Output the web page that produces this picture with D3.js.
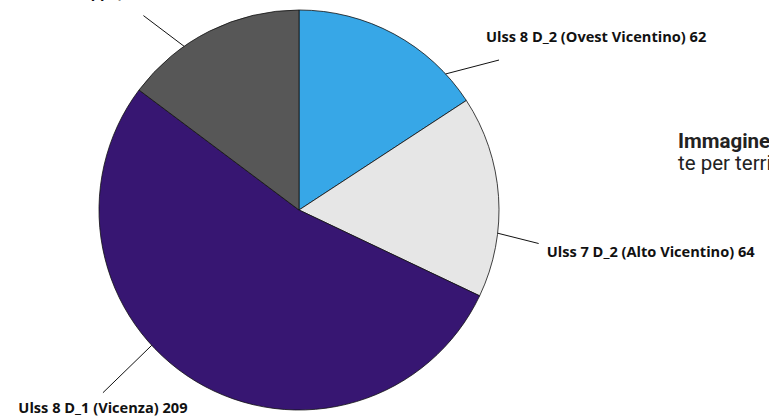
<!DOCTYPE html>
<html>
<head>
<meta charset="utf-8">
<script src="https://cdn.jsdelivr.net/npm/d3@7"></script>
<style>
  body { margin: 0; background: #fff; overflow: hidden; }
  #chart text.lbl { font-family: "Open Sans", sans-serif; font-weight: bold; font-size: 14.6px; fill: #111; }
  #chart text.cap { font-family: Roboto, sans-serif; font-size: 20.5px; fill: #222; }
</style>
</head>
<body>
<div id="chart"><svg width="769" height="419"></svg></div>
<script>
// distretti, in ordine orario a partire dalle 12
var districts = ["Ulss 8 D_2 (Ovest Vicentino)", "Ulss 7 D_2 (Alto Vicentino)", "Ulss 8 D_1 (Vicenza)", "Ulss 7 D_1 (Bassano del Grappa)"];
var counts = [62, 64, 209, 58];
var colors = ["#37a7e7", "#e6e6e6", "#371672", "#575757"];

// linea guida: punto sulla fetta (frazione), lunghezza, rotazione; poi posizione del testo
var labelLayout = [
  { at: 0.83, len: 50, turn: 6, anchor: "start", dx: -13, dy: -18 },
  { at: 0.68, len: 42, turn: 1.3, anchor: "start", dx: 8, dy: 13 },
  { at: 0.585, len: 68, turn: -0.4, anchor: "middle", dx: 0, dy: 20 },
  { at: 0.34, len: 49, turn: -3.6, anchor: "end", dx: 0, dy: -17.5 }
];

var svg = d3.select("#chart svg");
var cx = 299, cy = 210, radius = 200;

var g = svg.append("g").attr("transform", "translate(" + cx + "," + cy + ")");

var pie = d3.pie().sort(null).value(function(d) { return d; });
var arcs = pie(counts);

var arc = d3.arc().innerRadius(0).outerRadius(radius);

// punto in coordinate polari (angolo come in d3.arc: 0 = ore 12, senso orario)
function polar(a, r) {
  return [r * Math.sin(a), -r * Math.cos(a)];
}

function leaderStart(d, i) {
  var a = d.startAngle + (d.endAngle - d.startAngle) * labelLayout[i].at;
  return polar(a, radius);
}

function leaderEnd(d, i) {
  var L = labelLayout[i];
  var a = d.startAngle + (d.endAngle - d.startAngle) * L.at + L.turn * Math.PI / 180;
  return polar(a, radius + L.len);
}

g.selectAll("path.slice")
  .data(arcs)
  .enter().append("path")
  .attr("class", "slice")
  .attr("d", arc)
  .attr("fill", function(d, i) { return colors[i]; })
  .attr("stroke", "#111")
  .attr("stroke-width", 0.8);

g.selectAll("line.leader")
  .data(arcs)
  .enter().append("line")
  .attr("class", "leader")
  .attr("x1", function(d, i) { return leaderStart(d, i)[0]; })
  .attr("y1", function(d, i) { return leaderStart(d, i)[1]; })
  .attr("x2", function(d, i) { return leaderEnd(d, i)[0]; })
  .attr("y2", function(d, i) { return leaderEnd(d, i)[1]; })
  .attr("stroke", "#111")
  .attr("stroke-width", 1);

g.selectAll("text.lbl")
  .data(arcs)
  .enter().append("text")
  .attr("class", "lbl")
  .attr("x", function(d, i) { return leaderEnd(d, i)[0] + labelLayout[i].dx; })
  .attr("y", function(d, i) { return leaderEnd(d, i)[1] + labelLayout[i].dy; })
  .attr("text-anchor", function(d, i) { return labelLayout[i].anchor; })
  .text(function(d, i) { return districts[i] + " " + counts[i]; });

// didascalia a destra (tagliata dal bordo)
var caption = svg.append("text").attr("class", "cap").attr("x", 678).attr("y", 148);
caption.append("tspan").attr("font-weight", "bold").text("Immagine 4: persone segui-");
caption.append("tspan").attr("x", 678).attr("dy", 22).text("te per territorio");
</script>
</body>
</html>
